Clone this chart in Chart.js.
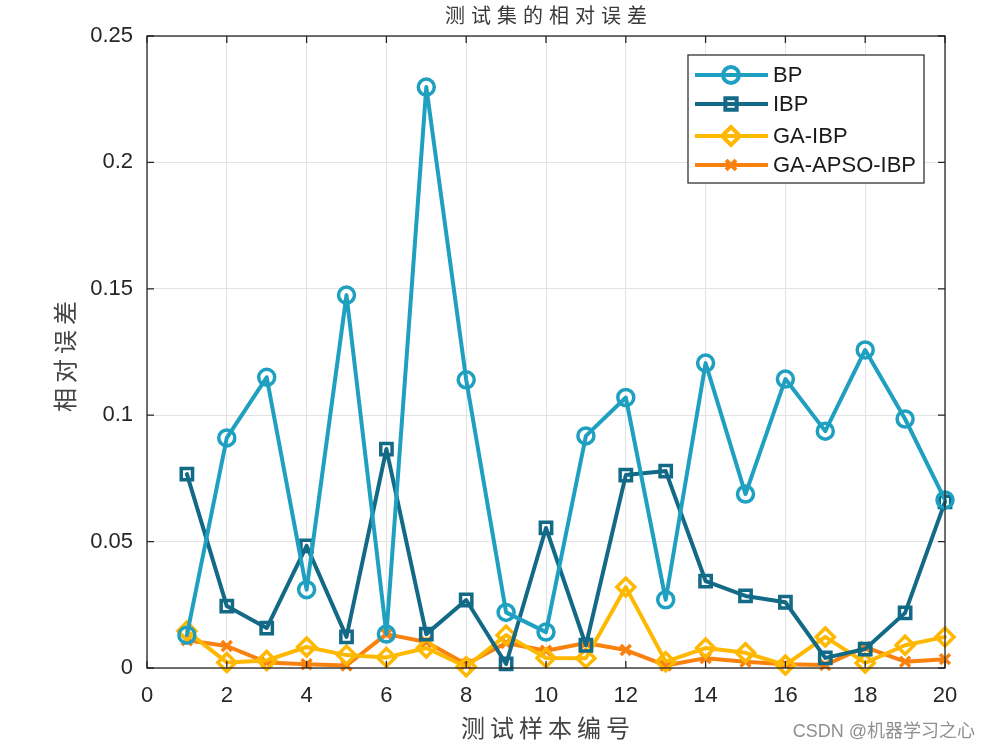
<!DOCTYPE html>
<html>
<head>
<meta charset="utf-8">
<script src="https://cdn.jsdelivr.net/npm/chart.js@4"></script>
<style>
  html, body { margin: 0; padding: 0; background: #fff; }
  #wrap { width: 993px; height: 750px; }
</style>
</head>
<body>
<div id="wrap"><canvas id="graph" width="993" height="750"></canvas></div>
<script>
const samples = [1, 2, 3, 4, 5, 6, 7, 8, 9, 10, 11, 12, 13, 14, 15, 16, 17, 18, 19, 20];
const bp = [0.013, 0.091, 0.115, 0.031, 0.1475, 0.0134, 0.2298, 0.114, 0.022, 0.0142,
            0.0918, 0.107, 0.027, 0.1206, 0.0688, 0.1143, 0.0937, 0.1258, 0.0985, 0.0665];
const ibp = [0.0767, 0.0245, 0.0158, 0.0483, 0.0123, 0.0866, 0.0134, 0.0269, 0.0016, 0.0554,
             0.009, 0.0763, 0.0779, 0.0344, 0.0285, 0.026, 0.004, 0.0075, 0.0218, 0.0657];
const gaIbp = [0.0146, 0.0022, 0.003, 0.0083, 0.0051, 0.0042, 0.0079, 0.0005, 0.013, 0.004,
               0.0039, 0.032, 0.0025, 0.0079, 0.006, 0.0012, 0.0123, 0.002, 0.009, 0.0123];
const gaApsoIbp = [0.011, 0.0087, 0.0022, 0.0015, 0.001, 0.0134, 0.0103, 0.0015, 0.0099, 0.0068,
                   0.0099, 0.0071, 0.001, 0.0039, 0.0025, 0.0015, 0.0012, 0.0083, 0.0025, 0.0035];
const seriesNames = ['BP', 'IBP', 'GA-IBP', 'GA-APSO-IBP'];
const xTicks = [0, 2, 4, 6, 8, 10, 12, 14, 16, 18, 20];
const yTicks = [0, 0.05, 0.1, 0.15, 0.2, 0.25];

const axisColor = '#262626';
const cjk = '"Noto Sans CJK SC", "Noto Sans", sans-serif';
const latin = '"Liberation Sans", Arial, sans-serif';

function series(name, values, color, style, radius) {
    return {
        label: name,
        data: samples.map((x, i) => ({ x: x, y: values[i] })),
        borderColor: color,
        backgroundColor: color,
        borderWidth: 4,
        borderJoinStyle: 'round',
        borderCapStyle: 'round',
        pointStyle: style,
        pointRadius: radius,
        pointBorderWidth: 3.5,
        pointBackgroundColor: 'rgba(0,0,0,0)',
        pointBorderColor: color,
        tension: 0
    };
}

// box, inward ticks, titles, legend, watermark
const matlabLook = {
    id: 'matlabLook',
    afterDraw(chart) {
        const ctx = chart.ctx;
        const a = chart.chartArea;
        const xs = chart.scales.x, ys = chart.scales.y;
        ctx.save();
        ctx.strokeStyle = axisColor;
        ctx.lineWidth = 1.3;
        ctx.strokeRect(a.left, a.top, a.right - a.left, a.bottom - a.top);
        ctx.beginPath();
        xTicks.forEach(v => {
            const px = xs.getPixelForValue(v);
            ctx.moveTo(px, a.bottom); ctx.lineTo(px, a.bottom - 7);
            ctx.moveTo(px, a.top); ctx.lineTo(px, a.top + 7);
        });
        yTicks.forEach(v => {
            const py = ys.getPixelForValue(v);
            ctx.moveTo(a.left, py); ctx.lineTo(a.left + 7, py);
            ctx.moveTo(a.right, py); ctx.lineTo(a.right - 7, py);
        });
        ctx.stroke();

        // titles
        ctx.fillStyle = '#3a3a3a';
        ctx.textAlign = 'center';
        ctx.textBaseline = 'middle';
        ctx.font = '20px ' + cjk;
        ctx.letterSpacing = '6px';
        ctx.fillText('测试集的相对误差', (a.left + a.right) / 2 + 3, 15);
        ctx.fillStyle = '#444';
        ctx.font = '24px ' + cjk;
        ctx.letterSpacing = '5px';
        ctx.fillText('测试样本编号', (a.left + a.right) / 2 + 2, 728);
        ctx.save();
        ctx.translate(65, (a.top + a.bottom) / 2 + 2);
        ctx.rotate(-Math.PI / 2);
        ctx.fillText('相对误差', 0, 0);
        ctx.restore();
        ctx.letterSpacing = '0px';

        // legend
        const lx = 688, ly = 55, lw = 236, lh = 128;
        ctx.fillStyle = '#fff';
        ctx.fillRect(lx, ly, lw, lh);
        ctx.strokeStyle = '#333';
        ctx.lineWidth = 1.3;
        ctx.strokeRect(lx, ly, lw, lh);
        const rowsY = [75, 104, 136, 165];
        chart.data.datasets.forEach((ds, i) => {
            const y = rowsY[i];
            ctx.strokeStyle = ds.borderColor;
            ctx.lineWidth = 4;
            ctx.beginPath();
            ctx.moveTo(695, y); ctx.lineTo(768, y);
            ctx.stroke();
            ctx.fillStyle = 'rgba(0,0,0,0)';
            Chart.helpers.drawPoint(ctx, {
                pointStyle: ds.pointStyle,
                radius: ds.pointRadius,
                borderWidth: 3.5,
                rotation: 0
            }, 731, y);
            ctx.fillStyle = '#1a1a1a';
            ctx.textAlign = 'left';
            ctx.font = '22px ' + latin;
            ctx.fillText(ds.label, 773, y + 1);
        });

        // watermark
        ctx.fillStyle = '#8f8f8f';
        ctx.font = '18px "Liberation Sans", "Noto Sans CJK SC", sans-serif';
        ctx.textAlign = 'right';
        ctx.fillText('CSDN @机器学习之心', 975, 732);
        ctx.restore();
    }
};

new Chart(document.querySelector('#graph'), {
    type: 'line',
    data: {
        datasets: [
            series(seriesNames[0], bp, '#1fa0c0', 'circle', 8),
            series(seriesNames[1], ibp, '#136a86', 'rect', 8),
            series(seriesNames[2], gaIbp, '#ffb800', 'rectRot', 9),
            series(seriesNames[3], gaApsoIbp, '#f9820f', 'crossRot', 7)
        ]
    },
    options: {
        responsive: false,
        animation: false,
        clip: false,
        layout: { padding: { left: 0, top: 36, right: 48, bottom: 0 } },
        plugins: {
            legend: { display: false },
            title: { display: false },
            tooltip: { enabled: false }
        },
        scales: {
            x: {
                type: 'linear',
                min: 0,
                max: 20,
                afterFit(scale) { scale.height = 82; },
                afterBuildTicks(scale) { scale.ticks = xTicks.map(v => ({ value: v })); },
                grid: { color: '#e3e3e3', lineWidth: 1, drawTicks: false },
                border: { display: false },
                ticks: {
                    padding: 15,
                    color: axisColor,
                    font: { family: latin, size: 22 },
                    maxRotation: 0
                }
            },
            y: {
                type: 'linear',
                min: 0,
                max: 0.25,
                afterFit(scale) { scale.width = 147; },
                afterBuildTicks(scale) { scale.ticks = yTicks.map(v => ({ value: v })); },
                grid: { color: '#e3e3e3', lineWidth: 1, drawTicks: false },
                border: { display: false },
                ticks: {
                    padding: 14,
                    color: axisColor,
                    font: { family: latin, size: 22 },
                    callback: v => String(Math.round(v * 100) / 100)
                }
            }
        }
    },
    plugins: [matlabLook]
});
</script>
</body>
</html>
